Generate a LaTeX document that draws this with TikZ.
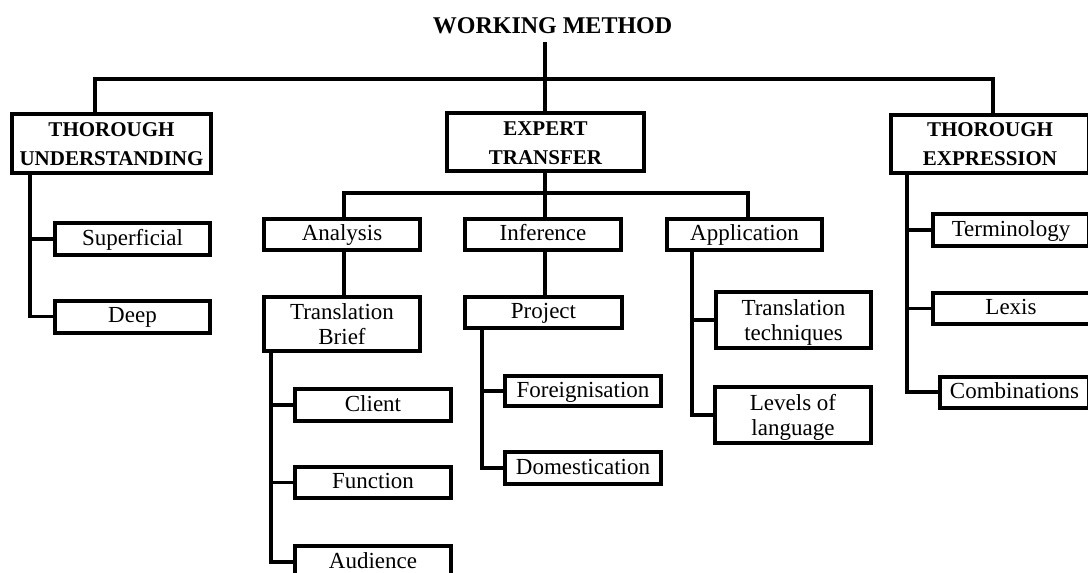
\documentclass[tikz,border=0pt]{standalone}
\usepackage{fontspec}
\setmainfont{Liberation Serif}
% strut used on the outer lines of two-line labels
\newcommand\labstrut{\rule[-5pt]{0pt}{25pt}}
\begin{document}
\begin{tikzpicture}[x=1pt,y=-1pt,
  box/.style={draw, line width=4pt, inner sep=0pt, outer sep=0pt, align=center,
              font=\fontsize{23}{25}\selectfont},
  one/.style={box, text height=17pt, text depth=5pt},
  headbox/.style={box, font=\fontsize{21}{29}\selectfont\bfseries},
  link/.style={line width=3.8pt, line join=miter}]
\useasboundingbox (0,0) rectangle (1088,573);
\clip (0,0) rectangle (1088,573);
\fill[white] (0,0) rectangle (1088,573);

% title
\node[font=\fontsize{24}{28}\selectfont\bfseries, anchor=base, inner xsep=0pt,
      inner ysep=9pt, outer sep=0pt] (title) at (552.5,33) {WORKING METHOD};

% first level
\node[headbox, minimum width=199, minimum height=59] (und)  at (111.5,143.5) {\labstrut THOROUGH\\UNDERSTANDING\labstrut};
\node[headbox, minimum width=197, minimum height=58] (exp)  at (545.5,142)   {\labstrut EXPERT\\TRANSFER\labstrut};
\node[headbox, minimum width=198, minimum height=58] (expr) at (990,143.5)   {\labstrut THOROUGH\\EXPRESSION\labstrut};

% understanding branch
\node[one, minimum width=155, minimum height=32] (sup)  at (132.5,239)   {Superficial};
\node[one, minimum width=155, minimum height=32] (deep) at (132.5,316.5) {Deep};

% transfer branch
\node[one, minimum width=156, minimum height=31] (ana) at (342,234.5)   {Analysis};
\node[one, minimum width=156, minimum height=31] (inf) at (543,234.5)   {Inference};
\node[one, minimum width=155, minimum height=31] (app) at (744.5,234.5) {Application};

\node[box, minimum width=156, minimum height=54] (brief) at (342,324)     {\labstrut Translation\\Brief\labstrut};
\node[one, minimum width=157, minimum height=31] (proj)  at (543.5,312.5) {Project};

\node[one, minimum width=156, minimum height=32] (client) at (373,405)   {Client};
\node[one, minimum width=156, minimum height=31] (func)   at (373,482.5) {Function};
\node[one, minimum width=156, minimum height=32] (aud)    at (373,562)   {Audience};

\node[one, minimum width=156, minimum height=30] (fore) at (583,391) {Foreignisation};
\node[one, minimum width=156, minimum height=32] (dom)  at (583,468) {Domestication};

\node[box, minimum width=155, minimum height=56] (tt)  at (793.5,320) {\labstrut Translation\\techniques\labstrut};
\node[box, minimum width=156, minimum height=56] (lev) at (793,415)   {\labstrut Levels of\\language\labstrut};

% expression branch
\node[one, minimum width=156, minimum height=32] (term) at (1011,230)   {Terminology};
\node[one, minimum width=157, minimum height=31] (lex)  at (1011,308.5) {Lexis};
\node[one, minimum width=149, minimum height=31] (comb) at (1014.5,392) {Combinations};

% junctions and trunk columns
\coordinate (hub)  at (545,79);
\coordinate (hub2) at (545,193);
\coordinate (tU) at (30,0);
\coordinate (tB) at (271,0);
\coordinate (tP) at (482,0);
\coordinate (tA) at (692,0);
\coordinate (tE) at (907,0);

% connectors, top level
\draw[link] (title.south -| hub) -- (exp.north -| hub);
\draw[link] ([xshift=-16.5pt]und.north) |- (hub) -| ([xshift=3pt]expr.north);

% understanding
\draw[link] (und.south -| tU) |- (deep.west);
\draw[link] (sup.west -| tU) -- (sup.west);

% transfer
\draw[link] (exp.south -| hub2) -- (inf.north -| hub2);
\draw[link] ([xshift=2pt]ana.north) |- (hub2) -| ([xshift=3.5pt]app.north);
\draw[link] ([xshift=2pt]ana.south) -- ([xshift=2pt]brief.north);
\draw[link] (inf.south -| hub2) -- (proj.north -| hub2);

\draw[link] (brief.south -| tB) |- (aud.west);
\draw[link] (client.west -| tB) -- (client.west);
\draw[link] (func.west -| tB) -- (func.west);

\draw[link] (proj.south -| tP) |- (dom.west);
\draw[link] (fore.west -| tP) -- (fore.west);

\draw[link] (app.south -| tA) |- (lev.west);
\draw[link] (tt.west -| tA) -- (tt.west);

% expression
\draw[link] (expr.south -| tE) |- (comb.west);
\draw[link] (term.west -| tE) -- (term.west);
\draw[link] (lex.west -| tE) -- (lex.west);
\end{tikzpicture}
\end{document}
